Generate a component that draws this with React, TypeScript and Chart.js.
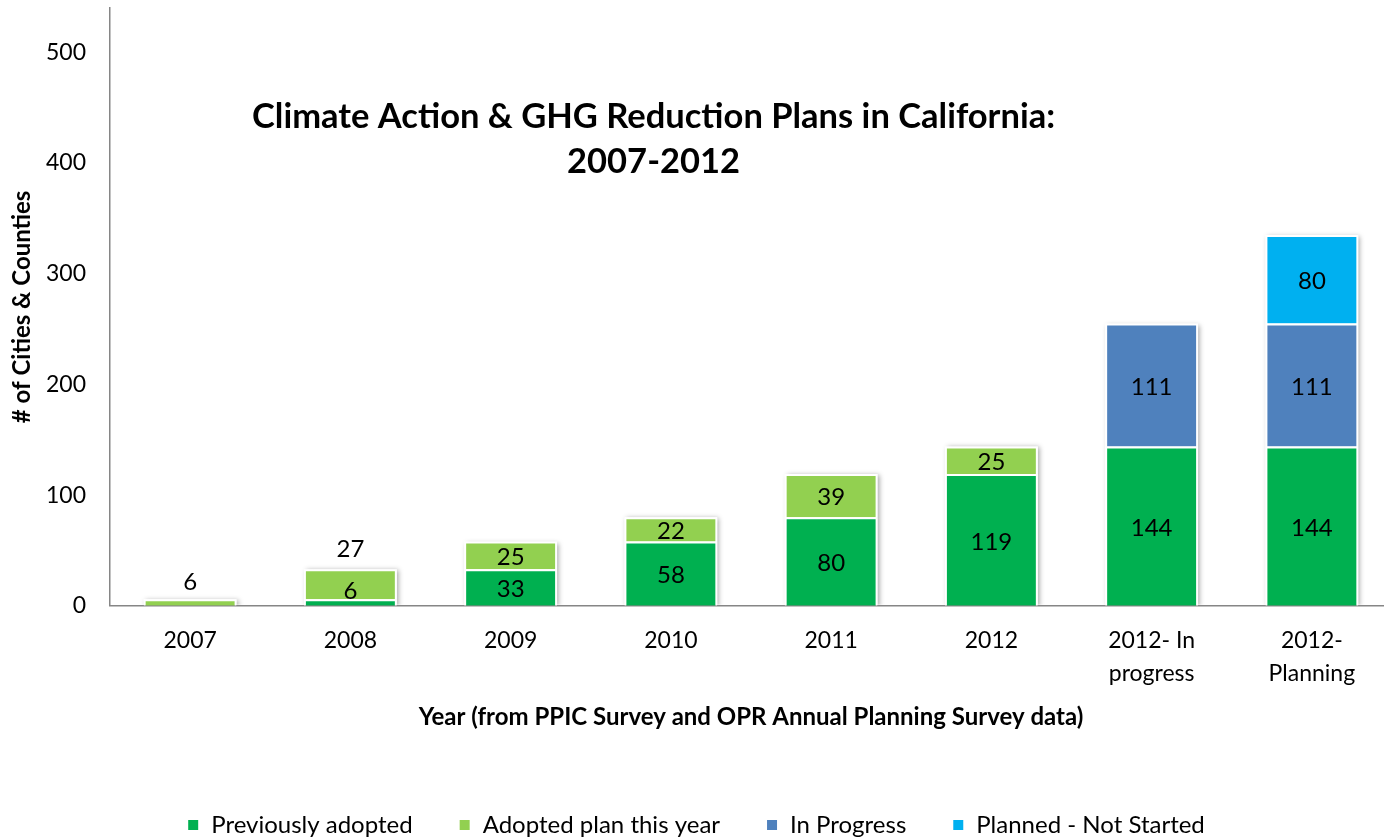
import React, { useEffect, useRef } from "react";
import { Chart, registerables } from "chart.js";

Chart.register(...registerables);

const categories: string[][] = [
  ["2007"],
  ["2008"],
  ["2009"],
  ["2010"],
  ["2011"],
  ["2012"],
  ["2012- In", "progress"],
  ["2012-", "Planning"],
];
const previouslyAdopted: (number | null)[] = [null, 6, 33, 58, 80, 119, 144, 144];
const adoptedThisYear: (number | null)[] = [6, 27, 25, 22, 39, 25, null, null];
const inProgress: (number | null)[] = [null, null, null, null, null, null, 111, 111];
const plannedNotStarted: (number | null)[] = [null, null, null, null, null, null, null, 80];
const seriesNames = ["Previously adopted", "Adopted plan this year", "In Progress", "Planned - Not Started"];
const titleLines = ["Climate Action & GHG Reduction Plans in California:", "2007-2012"];
const yAxisTitle = "# of Cities & Counties";
const xAxisTitle = "Year (from PPIC Survey and OPR Annual Planning Survey data)";
const yMax = 540;
const yStep = 100;

const FONT = "Lato, 'Open Sans', sans-serif";
const COLORS = ["#00B050", "#92D050", "#4F81BD", "#00B0F0"];

const shadowPlugin = {
  id: "barShadow",
  beforeDatasetsDraw(chart: any) {
    const ctx = chart.ctx;
    const n = chart.data.labels.length;
    for (let i = 0; i < n; i++) {
      let left = Infinity, right = -Infinity, top = Infinity, bottom = -Infinity;
      chart.data.datasets.forEach((ds: any, d: number) => {
        const v = ds.data[i];
        if (v == null || v === 0) return;
        const el = chart.getDatasetMeta(d).data[i] as any;
        left = Math.min(left, el.x - el.width / 2);
        right = Math.max(right, el.x + el.width / 2);
        top = Math.min(top, el.y, el.base);
        bottom = Math.max(bottom, el.y, el.base);
      });
      if (!isFinite(left)) continue;
      ctx.save();
      ctx.beginPath();
      ctx.rect(chart.chartArea.left, chart.chartArea.top - 20, chart.chartArea.width + 20, chart.chartArea.bottom - chart.chartArea.top + 19);
      ctx.clip();
      ctx.shadowColor = "rgba(0,0,0,0.35)";
      ctx.shadowBlur = 5;
      ctx.shadowOffsetX = 2;
      ctx.shadowOffsetY = 1;
      ctx.fillStyle = "#ffffff";
      ctx.fillRect(left, top, right - left, bottom - top);
      ctx.restore();
    }
  },
};

const labelPlugin = {
  id: "segmentLabels",
  afterDatasetsDraw(chart: any) {
    const ctx = chart.ctx;
    ctx.save();
    ctx.font = `24px ${FONT}`;
    ctx.fillStyle = "#000000";
    ctx.textAlign = "center";
    ctx.textBaseline = "middle";
    const n = chart.data.labels.length;
    const dsCount = chart.data.datasets.length;
    for (let i = 0; i < n; i++) {
      let barTop = Infinity;
      for (let d = 0; d < dsCount; d++) {
        const v = chart.data.datasets[d].data[i];
        if (v == null || v === 0) continue;
        const el = chart.getDatasetMeta(d).data[i] as any;
        barTop = Math.min(barTop, el.y);
      }
      let prevY: number | null = null;
      for (let d = 0; d < dsCount; d++) {
        const v = chart.data.datasets[d].data[i];
        if (v == null || v === 0) continue;
        const el = chart.getDatasetMeta(d).data[i] as any;
        const top = Math.min(el.y, el.base);
        const bottom = Math.max(el.y, el.base);
        const h = bottom - top;
        let isTop = true;
        for (let k = d + 1; k < dsCount; k++) {
          const w = chart.data.datasets[k].data[i];
          if (w != null && w !== 0) isTop = false;
        }
        let y: number;
        if (h < 20) {
          y = isTop ? top - 17 : top - 8;
        } else {
          y = (top + bottom) / 2 + 2;
          if (prevY !== null && Math.abs(prevY - y) < 22) {
            y = barTop - 20;
          }
        }
        ctx.fillText(String(v), el.x, y);
        prevY = y;
      }
    }
    ctx.restore();
  },
};

const titlePlugin = {
  id: "innerTitle",
  afterDraw(chart: any) {
    const ctx = chart.ctx;
    const area = chart.chartArea;
    ctx.save();
    ctx.font = `bold 34.5px ${FONT}`;
    ctx.fillStyle = "#000000";
    ctx.textAlign = "center";
    ctx.textBaseline = "middle";
    const cx = area.left + area.width * 0.424;
    ctx.fillText(titleLines[0], cx, area.top + 109);
    ctx.fillText(titleLines[1], cx, area.top + 154);
    ctx.restore();
  },
};

export default function App() {
  const canvasRef = useRef<HTMLCanvasElement | null>(null);

  useEffect(() => {
    const canvas = canvasRef.current;
    if (!canvas) return;
    const seriesData = [previouslyAdopted, adoptedThisYear, inProgress, plannedNotStarted];
    const chart = new Chart(canvas, {
      type: "bar",
      data: {
        labels: categories,
        datasets: seriesData.map((data, idx) => ({
          label: seriesNames[idx],
          data,
          backgroundColor: COLORS[idx],
          borderColor: "#ffffff",
          borderWidth: 2,
          barPercentage: 0.58,
          categoryPercentage: 1,
        })),
      },
      options: {
        responsive: false,
        animation: false,
        devicePixelRatio: 1,
        layout: { padding: { left: 0, right: 4, top: 8, bottom: -10 } },
        scales: {
          x: {
            stacked: true,
            grid: { display: false, drawTicks: false },
            border: { display: true, color: "#868686", width: 1.5 },
            ticks: {
              color: "#000000",
              font: { family: FONT, size: 23, lineHeight: 1.4 },
              padding: 19,
              maxRotation: 0,
              autoSkip: false,
            },
            title: {
              display: true,
              text: xAxisTitle,
              color: "#000000",
              font: { family: FONT, size: 24, weight: "bold" },
              padding: { top: -5, bottom: 35 },
            },
          },
          y: {
            stacked: true,
            min: 0,
            max: yMax,
            grid: { display: false, drawTicks: false },
            border: { display: true, color: "#868686", width: 1.5 },
            ticks: {
              stepSize: yStep,
              includeBounds: false,
              color: "#000000",
              font: { family: FONT, size: 23 },
              padding: 24,
            },
            title: {
              display: true,
              text: yAxisTitle,
              color: "#000000",
              font: { family: FONT, size: 24, weight: "bold" },
              padding: { top: 8, bottom: 8 },
            },
            afterFit(scale: any) {
              scale.width = 110;
              scale.paddingTop = 0;
              scale.paddingBottom = 0;
            },
          },
        },
        plugins: {
          legend: {
            position: "bottom",
            labels: {
              color: "#000000",
              font: { family: FONT, size: 24 },
              boxWidth: 12,
              boxHeight: 12,
              padding: 46,
            },
          },
          tooltip: { enabled: false },
          title: { display: false },
        },
      },
      plugins: [shadowPlugin, labelPlugin, titlePlugin],
    });
    return () => chart.destroy();
  }, []);

  return (
    <div
      style={{
        position: "absolute",
        left: 0,
        top: 0,
        width: 1384,
        height: 837,
        overflow: "hidden",
        background: "#ffffff",
      }}
    >
      <canvas ref={canvasRef} width={1396} height={837} style={{ display: "block" }} />
    </div>
  );
}
